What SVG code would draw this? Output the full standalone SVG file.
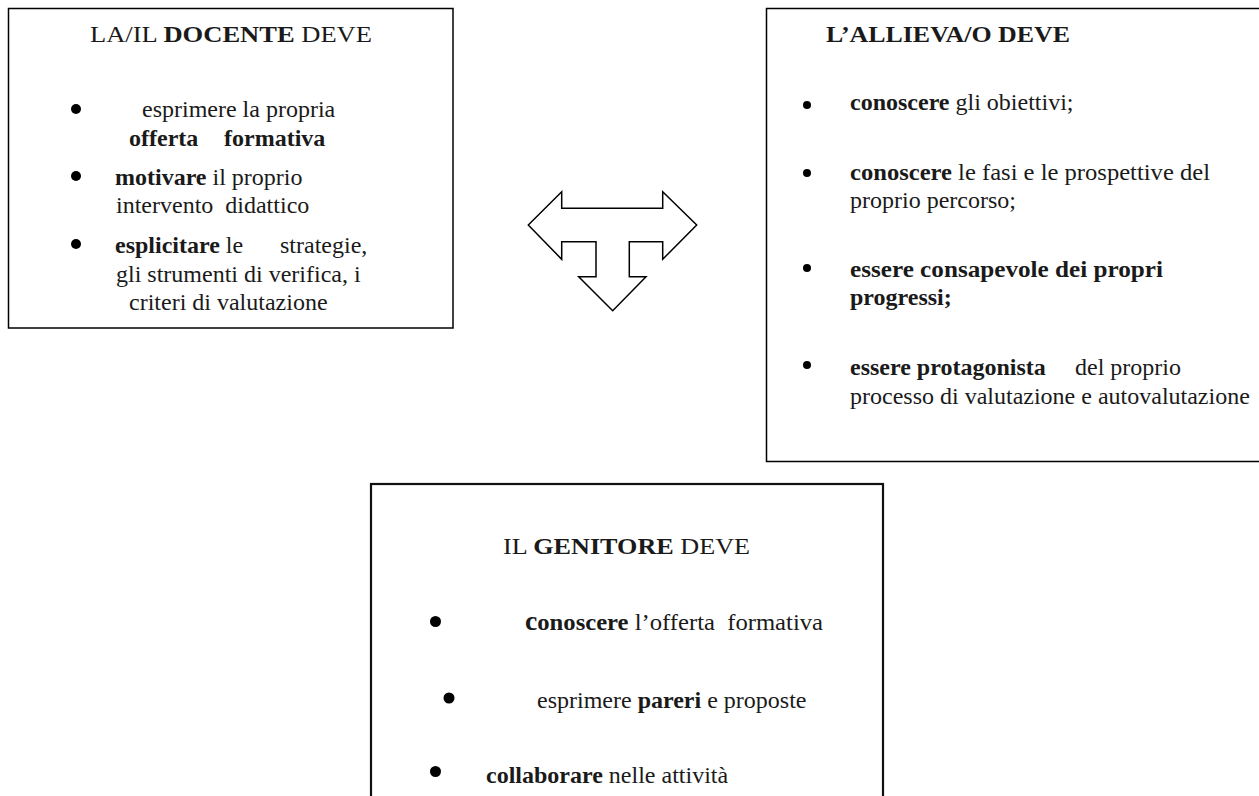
<svg xmlns="http://www.w3.org/2000/svg" width="1259" height="796" viewBox="0 0 1259 796">
<style>
text{font-family:"Liberation Serif","Times New Roman",serif;font-size:24px;fill:#1a1a1a}
.b{font-weight:bold}
.box{fill:#fff;stroke:#000;stroke-width:1.5}
.box3{fill:#fff;stroke:#111;stroke-width:2.2}
.dot{fill:#000}
.arrow{fill:#fff;stroke:#000;stroke-width:1.5;stroke-linejoin:miter}
</style>
<rect width="1259" height="796" fill="#fff"/>
<g id="docente">
<rect class="box" x="8.5" y="8.5" width="444.5" height="319.5"/>
<text x="90" y="42" textLength="282" lengthAdjust="spacingAndGlyphs">LA/IL <tspan class="b">DOCENTE</tspan> DEVE</text>
<circle class="dot" cx="76" cy="109" r="5"/>
<text x="142" y="117">esprimere la propria</text>
<text x="129" y="146" class="b">offerta<tspan x="224">formativa</tspan></text>
<circle class="dot" cx="76" cy="176" r="5"/>
<text x="115" y="185"><tspan class="b">motivare</tspan> il proprio</text>
<text x="116" y="213" xml:space="preserve">intervento  didattico</text>
<circle class="dot" cx="76" cy="244" r="5"/>
<text x="115" y="253"><tspan class="b">esplicitare</tspan> le<tspan x="280">strategie,</tspan></text>
<text x="116" y="282">gli strumenti di verifica, i</text>
<text x="129" y="310">criteri di valutazione</text>
</g>
<g id="allievo">
<rect class="box" x="766.5" y="8.5" width="500" height="453"/>
<text x="826" y="42" class="b" textLength="244" lengthAdjust="spacingAndGlyphs">L’ALLIEVA/O DEVE</text>
<circle class="dot" cx="807" cy="105" r="4"/>
<text x="850" y="110"><tspan class="b">conoscere</tspan> gli obiettivi;</text>
<circle class="dot" cx="807" cy="173" r="4"/>
<text x="850" y="180" textLength="360" lengthAdjust="spacingAndGlyphs"><tspan class="b">conoscere</tspan> le fasi e le prospettive del</text>
<text x="850" y="208">proprio percorso;</text>
<circle class="dot" cx="807" cy="268" r="4"/>
<text x="850" y="277" class="b" textLength="313" lengthAdjust="spacingAndGlyphs">essere consapevole dei propri</text>
<text x="850" y="305" class="b">progressi;</text>
<circle class="dot" cx="807" cy="365" r="4"/>
<text x="850" y="375"><tspan class="b">essere protagonista</tspan><tspan x="1075">del proprio</tspan></text>
<text x="850" y="404">processo di valutazione e autovalutazione</text>
</g>
<g id="genitore">
<rect class="box3" x="371" y="484" width="512" height="330"/>
<text x="503" y="554" textLength="247" lengthAdjust="spacingAndGlyphs">IL <tspan class="b">GENITORE</tspan> DEVE</text>
<circle class="dot" cx="435.5" cy="621.5" r="5.5"/>
<text x="525" y="630" xml:space="preserve" textLength="298" lengthAdjust="spacingAndGlyphs"><tspan class="b" font-size="27">c</tspan><tspan class="b">onoscere</tspan> l’offerta  formativa</text>
<circle class="dot" cx="449" cy="698" r="5.5"/>
<text x="537" y="708">esprimere <tspan class="b">pareri</tspan> e proposte</text>
<circle class="dot" cx="435.5" cy="771.5" r="5.5"/>
<text x="486" y="783"><tspan class="b">collaborare</tspan> nelle attività</text>
</g>
<g id="connectors">
<path class="arrow" d="M528.3,225 L561.7,191.7 L561.7,208.3 L662.7,208.3 L662.7,191.7 L696.7,225 L662.7,259.3 L662.7,241.7 L629.3,241.7 L629.3,276.7 L646,276.7 L612.7,310.7 L578.7,276.7 L596,276.7 L596,241.7 L561.7,241.7 L561.7,259.3 Z"/>
</g>
</svg>
